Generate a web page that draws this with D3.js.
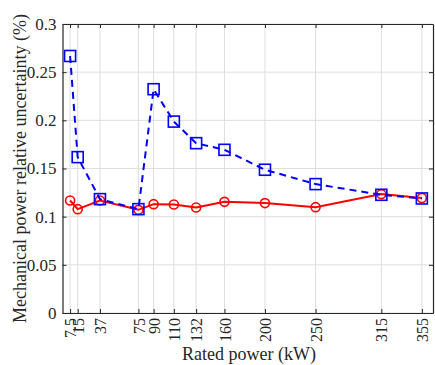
<!DOCTYPE html>
<html>
<head>
<meta charset="utf-8">
<script src="https://cdn.jsdelivr.net/npm/d3@7"></script>
<style>
  body { margin: 0; background: #fff; font-family: "Liberation Serif", serif; }
</style>
</head>
<body>
<div id="chart"></div>
<script>
const power = [7.5, 15, 37, 75, 90, 110, 132, 160, 200, 250, 315, 355];
const redVals = [0.1168, 0.1078, 0.1168, 0.1071, 0.1130, 0.1127, 0.1095, 0.1154, 0.1141, 0.1099, 0.1234, 0.1193];
const blueVals = [0.2668, 0.1618, 0.1182, 0.1078, 0.2323, 0.1987, 0.1763, 0.1694, 0.1487, 0.1338, 0.1227, 0.1189];
const yTicks = [0, 0.05, 0.1, 0.15, 0.2, 0.25, 0.3];

const font = 'Liberation Serif';
const width = 435, height = 365;
const margin = { top: 24, right: 2, bottom: 52, left: 62.5 };
const w = width - margin.left - margin.right;
const h = height - margin.top - margin.bottom;

const svgRoot = d3.select('#chart').append('svg').attr('width', width).attr('height', height)
  .attr('font-family', font);
const svg = svgRoot.append('g').attr('transform', `translate(${margin.left},${margin.top})`);

const x = d3.scaleLinear().domain([0, 366]).range([0, w]);
const y = d3.scaleLinear().domain([0, 0.3]).range([h, 0]);

// grid
svg.append('g').selectAll('line').data(power).enter().append('line')
  .attr('x1', d => x(d)).attr('x2', d => x(d)).attr('y1', 0).attr('y2', h)
  .attr('stroke', '#dedede').attr('stroke-width', 1);
svg.append('g').selectAll('line').data(yTicks).enter().append('line')
  .attr('x1', 0).attr('x2', w).attr('y1', d => y(d)).attr('y2', d => y(d))
  .attr('stroke', '#dedede').attr('stroke-width', 1);

// box with inward ticks
const axisColor = '#262626';
const xb = svg.append('g').attr('transform', `translate(0,${h})`)
  .call(d3.axisBottom(x).tickValues(power).tickSizeInner(-4).tickSizeOuter(0).tickPadding(5).tickFormat(d3.format('')));
xb.selectAll('text')
  .attr('transform', 'rotate(-90)')
  .attr('text-anchor', 'end')
  .attr('x', -5).attr('y', 0).attr('dy', '0.35em')
  .attr('font-size', 16);
const yl = svg.append('g')
  .call(d3.axisLeft(y).tickValues(yTicks).tickSizeInner(-4).tickSizeOuter(0).tickPadding(6).tickFormat(d3.format('')));
yl.selectAll('text').attr('font-size', 17);
const xt = svg.append('g').call(d3.axisTop(x).tickValues(power).tickSizeInner(-4).tickSizeOuter(0).tickFormat(''));
const yr = svg.append('g').attr('transform', `translate(${w},0)`)
  .call(d3.axisRight(y).tickValues(yTicks).tickSizeInner(-4).tickSizeOuter(0).tickFormat(''));
[xb, yl, xt, yr].forEach(g => {
  g.attr('font-family', font).attr('font-size', null);
  g.selectAll('path').attr('stroke', axisColor).attr('stroke-width', 1.2);
  g.selectAll('line').attr('stroke', axisColor);
  g.selectAll('text').attr('fill', axisColor).attr('font-family', font);
});

const line = d3.line().x(d => x(d[0])).y(d => y(d[1]));
const redData = power.map((p, i) => [p, redVals[i]]);
const blueData = power.map((p, i) => [p, blueVals[i]]);

// red series
svg.append('path').datum(redData).attr('d', line)
  .attr('fill', 'none').attr('stroke', '#ff0000').attr('stroke-width', 2);
svg.append('g').selectAll('circle').data(redData).enter().append('circle')
  .attr('cx', d => x(d[0])).attr('cy', d => y(d[1])).attr('r', 4.5)
  .attr('fill', 'none').attr('stroke', '#ff0000').attr('stroke-width', 1.6);

// blue series
svg.append('path').datum(blueData).attr('d', line)
  .attr('fill', 'none').attr('stroke', '#0000ff').attr('stroke-width', 2).attr('stroke-dasharray', '7 5');
svg.append('g').selectAll('rect').data(blueData).enter().append('rect')
  .attr('x', d => x(d[0]) - 5.5).attr('y', d => y(d[1]) - 5.5).attr('width', 11).attr('height', 11)
  .attr('fill', 'none').attr('stroke', '#0000ff').attr('stroke-width', 1.6);

// labels
svgRoot.append('text')
  .attr('transform', `translate(26,${margin.top + h / 2}) rotate(-90)`)
  .attr('text-anchor', 'middle')
  .attr('fill', axisColor)
  .attr('font-family', font)
  .attr('font-size', 18)
  .text('Mechanical power relative uncertainty (%)');
svgRoot.append('text')
  .attr('x', 249).attr('y', 360)
  .attr('text-anchor', 'middle')
  .attr('fill', axisColor)
  .attr('font-family', font)
  .attr('font-size', 18)
  .text('Rated power (kW)');
</script>
</body>
</html>
